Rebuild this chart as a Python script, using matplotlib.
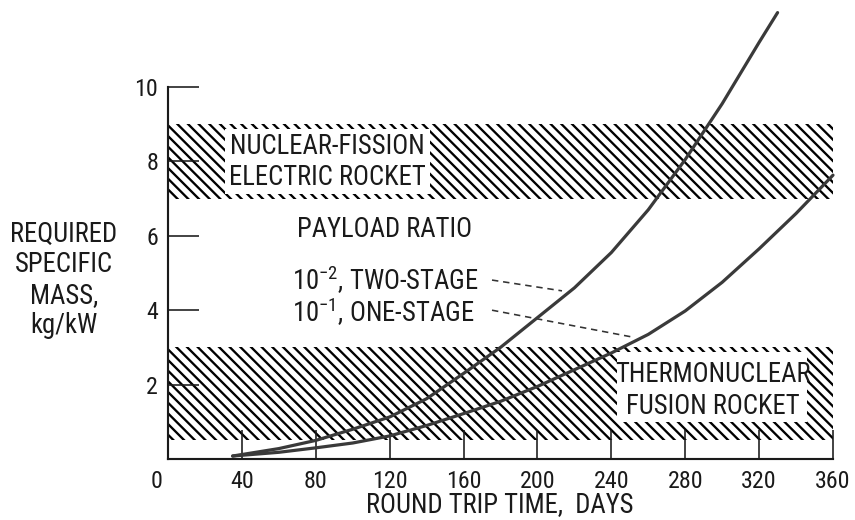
import matplotlib
matplotlib.use("Agg")
import matplotlib.pyplot as plt
from matplotlib import font_manager as fm
from matplotlib.patches import Rectangle
import matplotlib.transforms as mtransforms

# ---------------- data ----------------
x_ticks = [0, 40, 80, 120, 160, 200, 240, 280, 320, 360]
y_ticks = [2, 4, 6, 8, 10]

days_two_stage = [35, 60, 80, 100, 120, 140, 160, 180, 200, 220, 240, 260, 280, 300, 320, 330]
mass_two_stage = [0.08, 0.28, 0.50, 0.80, 1.13, 1.62, 2.30, 3.00, 3.80, 4.60, 5.55, 6.70, 8.05, 9.55, 11.2, 12.0]

days_one_stage = [35, 60, 80, 100, 120, 140, 160, 180, 200, 220, 240, 260, 280, 300, 320, 340, 360]
mass_one_stage = [0.08, 0.18, 0.30, 0.43, 0.62, 0.90, 1.22, 1.55, 1.95, 2.40, 2.85, 3.35, 3.98, 4.75, 5.65, 6.60, 7.63]

fission_band = (7.0, 9.0)
fusion_band = (0.5, 3.0)

# ---------------- font choice ----------------
available = set(f.name for f in fm.fontManager.ttflist)
preferred = ['Roboto Condensed', 'PT Sans Narrow', 'Archivo Narrow',
             'Fira Sans Condensed', 'IBM Plex Sans Condensed',
             'Encode Sans Condensed', 'Liberation Sans Narrow', 'DejaVu Sans']
MAIN = next(n for n in preferred if n in available)

DPI = 128
plt.rcParams['font.family'] = [MAIN, 'DejaVu Sans']
plt.rcParams['mathtext.fontset'] = 'custom'
plt.rcParams['mathtext.rm'] = MAIN
plt.rcParams['mathtext.it'] = MAIN
plt.rcParams['mathtext.bf'] = MAIN
plt.rcParams['hatch.linewidth'] = 1.3
plt.rcParams['hatch.color'] = 'black'
FS = 15
FS_TICK = 13.5
INK = '#1a1a1a'

fig = plt.figure(figsize=(855 / DPI, 520 / DPI), dpi=DPI)
ax = fig.add_axes([168 / 855, 1 - 459 / 520, (833 - 168) / 855, (459 - 87) / 520])
ax.set_xlim(0, 360)
ax.set_ylim(0, 10)

for s in ('top', 'right'):
    ax.spines[s].set_visible(False)
for s in ('left', 'bottom'):
    ax.spines[s].set_linewidth(1.2)
    ax.spines[s].set_color(INK)

ax.set_xticks(x_ticks)
ax.set_xticklabels([str(v) for v in x_ticks])
ax.set_yticks(y_ticks)
ax.set_yticklabels([str(v) for v in y_ticks])
ax.tick_params(axis='x', direction='in', length=16.5, width=0.9, pad=6.0,
               labelsize=FS_TICK, colors=INK)
ax.tick_params(axis='y', direction='in', length=17.5, width=0.9, pad=5.5,
               labelsize=FS_TICK, colors=INK)
# the shared origin label "0" sits a little left of the axis
zero_lbl = ax.get_xticklabels()[0]
zero_lbl.set_transform(zero_lbl.get_transform() +
                       mtransforms.ScaledTranslation(-11 / DPI, 0, fig.dpi_scale_trans))

# hatched bands
for lo, hi in (fission_band, fusion_band):
    ax.add_patch(Rectangle((0, lo), 360, hi - lo, facecolor='none',
                           edgecolor='black', linewidth=0, hatch='\\\\\\\\', zorder=1))

# white label boxes over the hatching
ax.add_patch(Rectangle((31, 7.12), 111, 1.76, facecolor='white',
                       edgecolor='none', zorder=2))
ax.add_patch(Rectangle((243, 1.0), 103, 1.87, facecolor='white',
                       edgecolor='none', zorder=2))

ax.text(86.5, 8.41, 'NUCLEAR-FISSION', ha='center', va='center', fontsize=FS,
        color=INK, zorder=3)
ax.text(86.5, 7.58, 'ELECTRIC ROCKET', ha='center', va='center', fontsize=FS,
        color=INK, zorder=3)
ax.text(295, 2.28, 'THERMONUCLEAR', ha='center', va='center', fontsize=FS,
        color=INK, zorder=3)
ax.text(295, 1.42, 'FUSION ROCKET', ha='center', va='center', fontsize=FS,
        color=INK, zorder=3)

ax.text(117.5, 6.18, 'PAYLOAD RATIO', ha='center', va='center', fontsize=FS,
        color=INK, zorder=3)
ax.text(67, 4.81, r'10$^{\mathrm{-2}}$, TWO-STAGE', ha='left', va='center',
        fontsize=FS, color=INK, zorder=3)
ax.text(67, 3.95, r'10$^{\mathrm{-1}}$, ONE-STAGE', ha='left', va='center',
        fontsize=FS, color=INK, zorder=3)

# leader lines
ax.plot([175.4, 213.3], [4.81, 4.52], color='#333333', lw=0.9,
        dashes=(4, 3), zorder=3)
ax.plot([175.4, 251.2], [4.00, 3.28], color='#333333', lw=0.9,
        dashes=(4, 3), zorder=3)

# curves
ax.plot(days_two_stage, mass_two_stage, color='#3a3a3a', lw=1.8,
        solid_capstyle='round', solid_joinstyle='round', clip_on=False, zorder=4)
ax.plot(days_one_stage, mass_one_stage, color='#3a3a3a', lw=1.8,
        solid_capstyle='round', solid_joinstyle='round', clip_on=False, zorder=4)

# axis labels
fig.text(500 / 855, 1 - 505 / 520, 'ROUND TRIP TIME,  DAYS', ha='center',
         va='center', fontsize=FS, color=INK)
fig.text(64 / 855, 1 - 280 / 520, 'REQUIRED\nSPECIFIC\nMASS,\nkg/kW',
         ha='center', va='center', multialignment='center', fontsize=FS,
         color=INK, linespacing=1.15)

fig.savefig('out.png', dpi=DPI)
